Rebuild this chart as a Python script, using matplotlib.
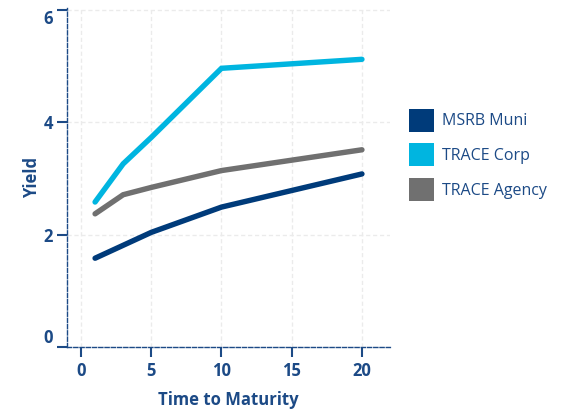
import matplotlib

matplotlib.use("Agg")
import matplotlib.pyplot as plt
from matplotlib.patches import Patch

plt.rcParams["font.family"] = ["Open Sans", "DejaVu Sans"]

# yield curves
maturity = [1, 3, 5, 10, 20]
msrb_muni = [1.58, 1.81, 2.04, 2.49, 3.08]
trace_corp = [2.58, 3.26, 3.73, 4.96, 5.12]
trace_agency = [2.37, 2.71, 2.84, 3.14, 3.51]

series_names = ["MSRB Muni", "TRACE Corp", "TRACE Agency"]
series_colors = ["#003B7A", "#00B5E0", "#707070"]

x_ticks = [0, 5, 10, 15, 20]
y_ticks = [0, 2, 4, 6]

text_color = "#1C4A86"

fig = plt.figure(figsize=(5.62, 4.09), dpi=100)
ax = fig.add_axes([0.1192, 0.1516, 0.5748, 0.8284])

for values, color in zip([msrb_muni, trace_corp, trace_agency], series_colors):
    ax.plot(maturity, values, color=color, lw=3.9, solid_capstyle="round",
            solid_joinstyle="miter", zorder=3)

ax.set_xlim(-1, 22)
ax.set_ylim(0, 6.03)
ax.set_xticks(x_ticks)
ax.set_yticks(y_ticks)

ax.grid(True, color="#EBEBEB", lw=1.0, ls=(0, (3, 2)), zorder=0)

for side in ["top", "right"]:
    ax.spines[side].set_visible(False)
for side in ["left", "bottom"]:
    ax.spines[side].set_color(text_color)
    ax.spines[side].set_linewidth(1.0)
    ax.spines[side].set_linestyle((0, (3, 1.5)))

ax.tick_params(axis="both", colors=text_color, width=1.5, length=7,
               labelsize=12, pad=4)
ax.tick_params(axis="y", pad=3)
for lab in ax.get_xticklabels() + ax.get_yticklabels():
    lab.set_fontweight("bold")
ylabs = ax.get_yticklabels()
ylabs[0].set_va("bottom")
ylabs[-1].set_va("top")

ax.set_xlabel("Time to Maturity", fontsize=12, fontweight="bold",
              color=text_color, labelpad=8)
ax.set_ylabel("Yield", fontsize=12, fontweight="bold", color=text_color)
ax.yaxis.set_label_coords(-0.081, 0.5)

handles = [Patch(facecolor=c, edgecolor="none") for c in series_colors]
fig.legend(handles, series_names, loc="upper left",
           bbox_to_anchor=(0.716, 0.750), frameon=False, fontsize=11.5,
           handlelength=1.6, handleheight=1.85, handletextpad=0.5,
           labelspacing=0.72, labelcolor=text_color, borderaxespad=0)

fig.savefig("out.png", dpi=100)
